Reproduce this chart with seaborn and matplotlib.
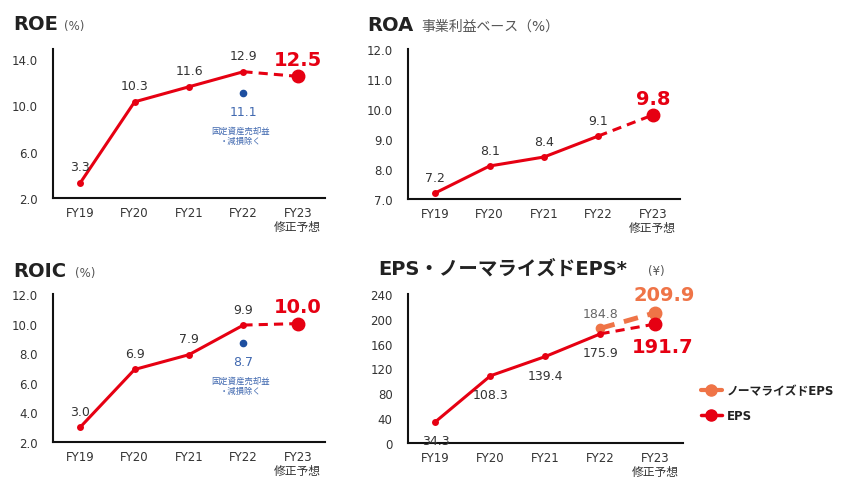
import numpy as np
import pandas as pd
import matplotlib
matplotlib.use("Agg")
import matplotlib.pyplot as plt
from matplotlib.lines import Line2D
import seaborn as sns

sns.set_style("white")
plt.rcParams['font.family'] = ['DejaVu Sans', 'Noto Sans CJK JP']

# data
years = ["FY19", "FY20", "FY21", "FY22", "FY23\n修正予想"]

roe = [3.3, 10.3, 11.6, 12.9]
roe_fc = 12.5
roe_adj = 11.1

roa = [7.2, 8.1, 8.4, 9.1]
roa_fc = 9.8

roic = [3.0, 6.9, 7.9, 9.9]
roic_fc = 10.0
roic_adj = 8.7

eps = [34.3, 108.3, 139.4, 175.9]
eps_fc = 191.7
norm_eps = [184.8, 209.9]   # FY22, FY23

RED = "#E60012"
ORANGE = "#EF7447"
BLUE = "#1E4FA0"
BLUE_TXT = "#4169B0"
TXT = "#333333"

W, H = 845, 481
fig = plt.figure(figsize=(W / 100, H / 100), dpi=100)


def px_axes(left, top, right, bottom):
    return fig.add_axes([left / W, 1 - bottom / H, (right - left) / W, (bottom - top) / H])


def style(ax, ylim, yticks, fmt):
    ax.set_xlim(-0.5, 4.5)
    ax.set_ylim(*ylim)
    ax.set_yticks(yticks)
    ax.set_yticklabels([fmt.format(t) for t in yticks])
    ax.set_xticks(range(len(years)))
    ax.set_xticklabels(years, linespacing=1.1)
    ax.tick_params(axis="both", length=0, labelsize=8.5, labelcolor=TXT, pad=6)
    ax.tick_params(axis="y", pad=11)
    for s in ["top", "right"]:
        ax.spines[s].set_visible(False)
    for s in ["left", "bottom"]:
        ax.spines[s].set_color("#111111")
        ax.spines[s].set_linewidth(1.5)
    ax.set_xlabel("")
    ax.set_ylabel("")
    ax.grid(False)


def draw_series(ax, vals, fc, color=RED, label_below=False, labels=True):
    x = np.arange(len(vals))
    df = pd.DataFrame({"x": x, "y": vals})
    sns.lineplot(data=df, x="x", y="y", ax=ax, color=color, lw=2.2,
                 marker="o", markersize=5, markeredgewidth=0)
    dash = pd.DataFrame({"x": [x[-1], x[-1] + 1], "y": [vals[-1], fc]})
    ax.plot(dash["x"], dash["y"], color=color, lw=2.2, dashes=(3, 2))
    ax.plot([x[-1] + 1], [fc], "o", color=color, markersize=9)
    if labels:
        for xi, v in zip(x, vals):
            ax.annotate(f"{v:.1f}", (xi, v), textcoords="offset points",
                        xytext=(0, -16 if label_below else 9), ha="center",
                        fontsize=9, color=TXT)


def adjusted(ax, v):
    ax.plot([3], [v], "o", color=BLUE, markersize=4.5)
    ax.annotate(f"{v:.1f}", (3, v), textcoords="offset points", xytext=(0, -16),
                ha="center", fontsize=9, color=BLUE_TXT)
    ax.annotate("固定資産売却益\n・減損除く", (3, v), textcoords="offset points",
                xytext=(-2, -36), ha="center", fontsize=6, color=BLUE_TXT, linespacing=1.15)


# ROE
ax1 = px_axes(53, 50, 325, 199)
draw_series(ax1, roe, roe_fc)
adjusted(ax1, roe_adj)
ax1.annotate(f"{roe_fc:.1f}", (4, roe_fc), textcoords="offset points", xytext=(0, 8),
             ha="center", fontsize=14, fontweight="bold", color=RED)
style(ax1, (2, 14.86), [2, 6, 10, 14], "{:.1f}")

# ROA
ax2 = px_axes(408, 50, 680, 200)
draw_series(ax2, roa, roa_fc)
ax2.annotate(f"{roa_fc:.1f}", (4, roa_fc), textcoords="offset points", xytext=(0, 8),
             ha="center", fontsize=14, fontweight="bold", color=RED)
style(ax2, (7, 12), [7, 8, 9, 10, 11, 12], "{:.1f}")

# ROIC
ax3 = px_axes(53, 295, 325, 443)
draw_series(ax3, roic, roic_fc)
adjusted(ax3, roic_adj)
ax3.annotate(f"{roic_fc:.1f}", (4, roic_fc), textcoords="offset points", xytext=(0, 8),
             ha="center", fontsize=14, fontweight="bold", color=RED)
style(ax3, (2, 12), [2, 4, 6, 8, 10, 12], "{:.1f}")

# EPS
ax4 = px_axes(408, 295, 683, 444)
ax4.plot([3, 4], norm_eps, color=ORANGE, lw=3.5, dashes=(3, 2))
ax4.plot([3], [norm_eps[0]], "o", color=ORANGE, markersize=6)
ax4.plot([4], [norm_eps[1]], "o", color=ORANGE, markersize=9)
draw_series(ax4, eps, eps_fc, label_below=True)
ax4.annotate(f"{norm_eps[0]:.1f}", (3, norm_eps[0]), textcoords="offset points",
             xytext=(0, 8), ha="center", fontsize=9, color="#666666")
ax4.annotate(f"{norm_eps[1]:.1f}", (4, norm_eps[1]), textcoords="offset points",
             xytext=(6, 9), ha="center", fontsize=14, fontweight="bold", color=ORANGE)
ax4.annotate(f"{eps_fc:.1f}", (4, eps_fc), textcoords="offset points",
             xytext=(5, -20), ha="center", fontsize=14, fontweight="bold", color=RED)
style(ax4, (0, 240), [0, 40, 80, 120, 160, 200, 240], "{:.0f}")

# titles
fig.text(13 / W, 1 - 30 / H, "ROE", fontsize=14, fontweight="bold", color="#222222")
fig.text(64 / W, 1 - 30 / H, "(%)", fontsize=8.5, color="#555555")
fig.text(367 / W, 1 - 31 / H, "ROA", fontsize=14, fontweight="bold", color="#222222")
fig.text(421 / W, 1 - 31 / H, "事業利益ベース（%）", fontsize=10, color="#555555")
fig.text(13 / W, 1 - 277 / H, "ROIC", fontsize=14, fontweight="bold", color="#222222")
fig.text(75 / W, 1 - 277 / H, "(%)", fontsize=8.5, color="#555555")
fig.text(378 / W, 1 - 275 / H, "EPS・ノーマライズドEPS*", fontsize=14, fontweight="bold",
         color="#222222")
fig.text(648 / W, 1 - 275 / H, "(¥)", fontsize=8.5, color="#555555")

# legend
handles = [Line2D([], [], color=ORANGE, lw=3, marker="o", markersize=8),
           Line2D([], [], color=RED, lw=2.5, marker="o", markersize=8)]
leg = fig.legend(handles, ["ノーマライズドEPS", "EPS"], loc="center left",
                 bbox_to_anchor=(690 / W, 1 - 404 / H), frameon=False,
                 handlelength=1.8, handletextpad=0.4, labelspacing=1.0,
                 prop={"size": 8.5, "weight": "bold"})
for t in leg.get_texts():
    t.set_color("#222222")

fig.savefig("out.png", dpi=100)
